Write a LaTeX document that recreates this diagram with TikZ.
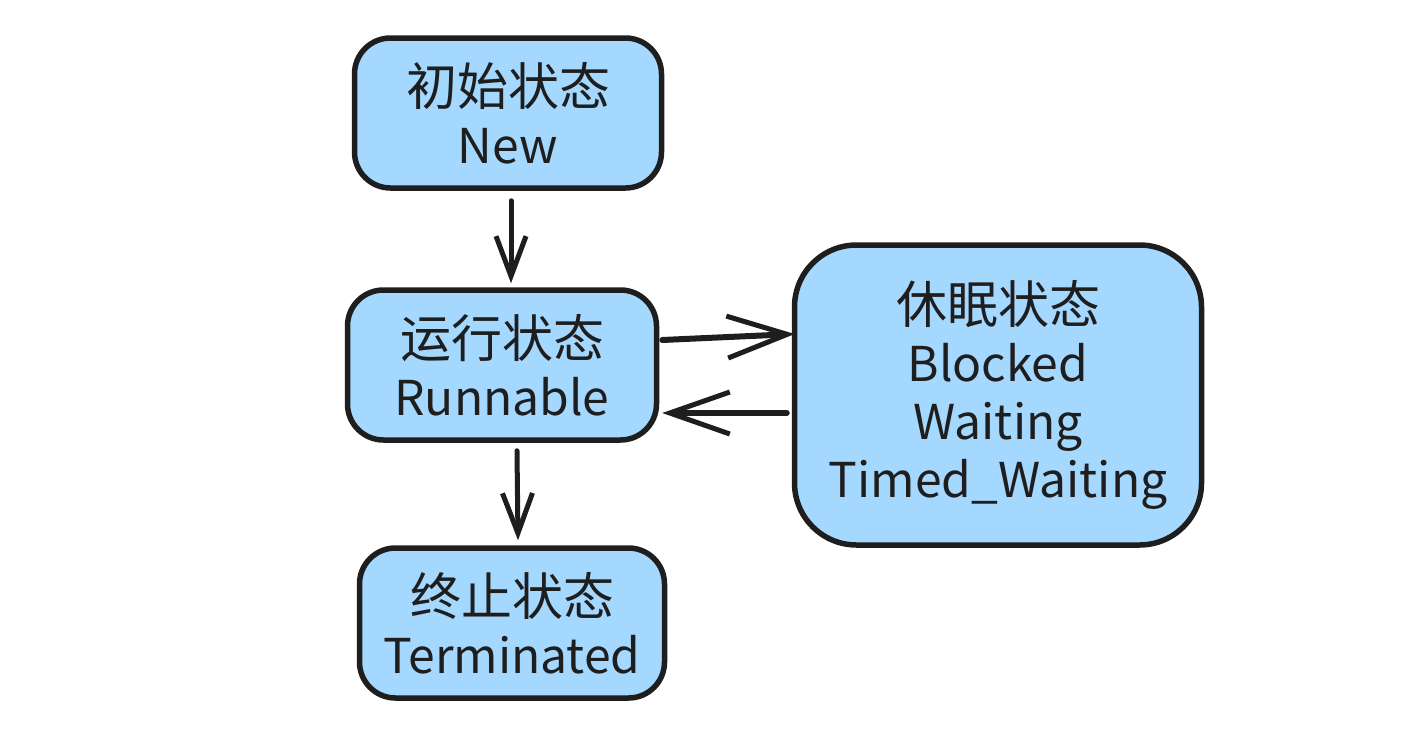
\documentclass[tikz,border=0pt]{standalone}
\usepackage{fontspec}
\newfontfamily\cjk{Noto Sans CJK SC}
\usetikzlibrary{arrows.meta}
\definecolor{boxfill}{HTML}{A5D8FF}
\definecolor{ink}{HTML}{1E1E1E}
\newcommand{\zh}[1]{{\fontsize{51}{58}\selectfont #1}}
\begin{document}
\begin{tikzpicture}[x=1pt,y=-1pt,
  state/.style={draw=ink, fill=boxfill, line width=5.5pt, rounded corners=36pt,
    align=center, inner sep=0pt, text=ink,
    font=\cjk\fontsize{48}{58}\selectfont},
  varr/.style={draw=ink, line width=5pt, line cap=round,
    -{Straight Barb[length=40pt, width=30pt, line width=5pt]}},
  harr/.style={draw=ink, line width=6pt, line cap=round,
    -{Straight Barb[length=60pt, width=42pt, line width=5pt]}}]
\useasboundingbox (0,0) rectangle (1424,745);
\node[state, minimum width=307pt, minimum height=150pt] (new) at (508,113) {\zh{初始状态}\\New};
\node[state, minimum width=309pt, minimum height=150pt] (run) at (502,365) {\zh{运行状态}\\Runnable};
\node[state, minimum width=305pt, minimum height=150pt] (term) at (512,623) {\zh{终止状态}\\Terminated};
\node[state, minimum width=407pt, minimum height=300pt, rounded corners=62pt] (sleep) at (998,395) {\zh{休眠状态}\\Blocked\\Waiting\\Timed\_Waiting};
\draw[varr] ([shift={(3,10)}]new.south) -- ([shift={(9,-4)}]run.north);
\draw[varr] ([shift={(15,8)}]run.south) -- ([shift={(6,-5)}]term.north);
\draw[harr] ([shift={(3,-25)}]run.east) -- ([shift={(3,-61)}]sleep.west);
\draw[harr] ([shift={(-5,18)}]sleep.west) -- ([shift={(3,48)}]run.east);
\end{tikzpicture}
\end{document}
